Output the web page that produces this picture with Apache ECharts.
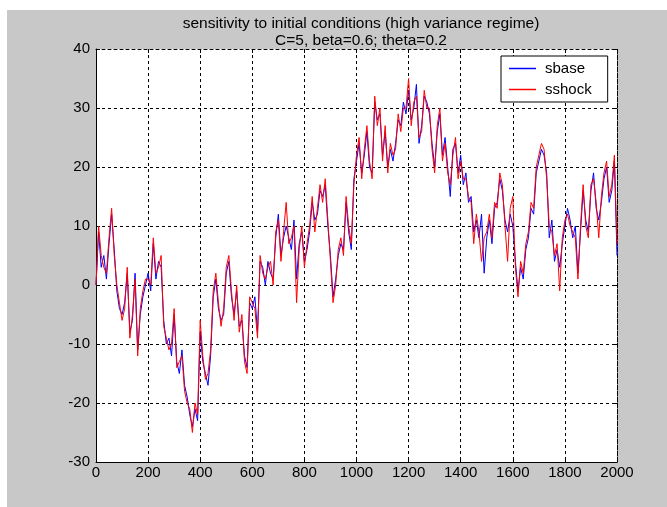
<!DOCTYPE html>
<html>
<head>
<meta charset="utf-8">
<script src="https://cdn.jsdelivr.net/npm/echarts@6/dist/echarts.min.js"></script>
<style>
  html, body { margin: 0; padding: 0; background: #fff; }
  #fig { position: absolute; left: 7px; top: 10px; width: 660px; height: 497px; background: #c8c8c8; }
</style>
</head>
<body>
<div id="fig"></div>
<script>
// sample positions (every 10 steps)
const steps = []
for (let i = 0; i <= 2000; i += 10) steps.push(i)

const sbase = [
  0, 9, 3, 5, 1, 7, 12, 6, -1, -4,
  -5, -3, 2, -8, -6, 2, -11, -5, -2, 0,
  2, -1, 7, 1, 4, 3, -6, -10, -9, -12,
  -5, -13, -15, -11, -17, -19, -22, -24, -21, -23,
  -8, -13, -15, -17, -12, -2, 1, -4, -6, -5,
  2, 4, -2, -5, -1, -7, -6, -12, -14, -3,
  -4, -2, -8, 4, 3, 0, 4, 2, 1, 8,
  12, 5, 8, 10, 8, 6, 11, 1, 7, 9,
  4, 6, 9, 14, 11, 12, 16, 15, 17, 10,
  5, -2, 1, 5, 7, 6, 14, 9, 6, 18,
  21, 24, 19, 22, 26, 20, 19, 31, 28, 29,
  22, 26, 20, 23, 21, 24, 28, 27, 31, 29,
  33, 28, 30, 34, 24, 27, 32, 31, 29, 24,
  20, 26, 29, 22, 25, 20, 15, 23, 24, 19,
  22, 17, 19, 14, 15, 9, 11, 8, 12, 2,
  8, 11, 7, 13, 14, 18, 16, 11, 9, 12,
  10, 4, -1, 3, 1, 6, 8, 13, 12, 19,
  21, 23, 22, 19, 8, 11, 4, 6, 3, 7,
  10, 13, 11, 8, 10, 2, 9, 16, 11, 9,
  16, 19, 13, 11, 14, 18, 20, 14, 16, 21,
  5
]

const sshock = [
  0, 10, 5, 3, 2, 8, 13, 5, 0, -3,
  -6, -4, 3, -9, -5, 1, -12, -4, -1, 1,
  1, 0, 8, 2, 3, 5, -7, -9, -11, -10,
  -4, -14, -13, -12, -18, -20, -21, -25, -20, -22,
  -6, -12, -16, -15, -11, -1, 2, -3, -7, -4,
  3, 5, -1, -6, 0, -8, -5, -13, -15, -2,
  -3, -4, -9, 5, 2, 1, 3, 4, 0, 9,
  11, 4, 9, 14, 7, 8, 10, -3, 6, 10,
  3, 7, 10, 15, 9, 13, 17, 14, 18, 11,
  4, -3, 0, 6, 8, 5, 15, 10, 7, 17,
  22, 25, 18, 23, 27, 21, 18, 32, 27, 30,
  21, 27, 19, 24, 22, 23, 29, 26, 30, 30,
  35, 27, 31, 32, 25, 26, 33, 30, 30, 23,
  19, 27, 30, 21, 24, 19, 17, 22, 25, 18,
  21, 18, 18, 15, 14, 7, 12, 9, 4, 8,
  9, 12, 8, 14, 13, 19, 17, 10, 4, 13,
  15, 3, -2, 4, 2, 7, 9, 14, 13, 20,
  22, 24, 23, 18, 10, 9, 5, 7, -1, 8,
  11, 12, 10, 9, 8, 1, 10, 17, 10, 8,
  17, 18, 14, 8, 15, 19, 21, 15, 17, 22,
  7
]

const titleText = 'sensitivity to initial conditions (high variance regime)\nC=5, beta=0.6; theta=0.2'

const myChart = echarts.init(document.getElementById('fig'))

const font = 'Liberation Sans, Arial, sans-serif'
const gridLine = { show: true, lineStyle: { color: '#000', type: [3, 3], width: 1 } }
const boxLine = { show: true, onZero: false, lineStyle: { color: '#000', width: 1 } }
const dotLine = { show: true, onZero: false, lineStyle: { color: '#000', width: 1, type: [3, 3] } }
const tick = { show: true, inside: true, length: 4, lineStyle: { color: '#000' } }

const option = {
  animation: false,
  textStyle: { fontFamily: font },
  title: {
    text: titleText,
    left: 349,
    textAlign: 'center',
    top: 0,
    textStyle: { fontSize: 15.5, fontWeight: 'normal', color: '#000', lineHeight: 17, fontFamily: font }
  },
  grid: { left: 89, top: 39, width: 521, height: 413, backgroundColor: '#fff', show: true, borderWidth: 0 },
  legend: {
    orient: 'vertical',
    left: 494,
    top: 46,
    padding: [5, 16, 5, 8],
    itemGap: 6,
    itemWidth: 27,
    itemHeight: 1.5,
    icon: 'rect',
    backgroundColor: '#fff',
    borderColor: '#000',
    borderWidth: 1,
    borderRadius: 0,
    textStyle: { fontSize: 15, color: '#000', padding: [0, 0, 0, 4], fontFamily: font },
    data: ['sbase', 'sshock']
  },
  xAxis: [
    {
      type: 'value',
      min: 0,
      max: 2000,
      interval: 200,
      position: 'bottom',
      axisLine: boxLine,
      axisTick: tick,
      axisLabel: { color: '#000', fontSize: 15, margin: 3, formatter: v => String(v) },
      splitLine: gridLine
    },
    {
      type: 'value',
      min: 0,
      max: 2000,
      interval: 200,
      position: 'top',
      axisLine: dotLine,
      axisTick: tick,
      axisLabel: { show: false },
      splitLine: { show: false }
    }
  ],
  yAxis: [
    {
      type: 'value',
      min: -30,
      max: 40,
      interval: 10,
      position: 'left',
      axisLine: boxLine,
      axisTick: tick,
      axisLabel: { color: '#000', fontSize: 15, margin: 6 },
      splitLine: gridLine
    },
    {
      type: 'value',
      min: -30,
      max: 40,
      interval: 10,
      position: 'right',
      axisLine: dotLine,
      axisTick: tick,
      axisLabel: { show: false },
      splitLine: { show: false }
    }
  ],
  series: [
    {
      name: 'sbase',
      type: 'line',
      showSymbol: false,
      color: '#0000ff',
      lineStyle: { color: '#0000ff', width: 1 },
      data: steps.map((x, i) => [x, sbase[i]])
    },
    {
      name: 'sshock',
      type: 'line',
      showSymbol: false,
      color: '#ff0000',
      lineStyle: { color: '#ff0000', width: 1 },
      data: steps.map((x, i) => [x, sshock[i]])
    }
  ]
}

myChart.setOption(option)
</script>
</body>
</html>
